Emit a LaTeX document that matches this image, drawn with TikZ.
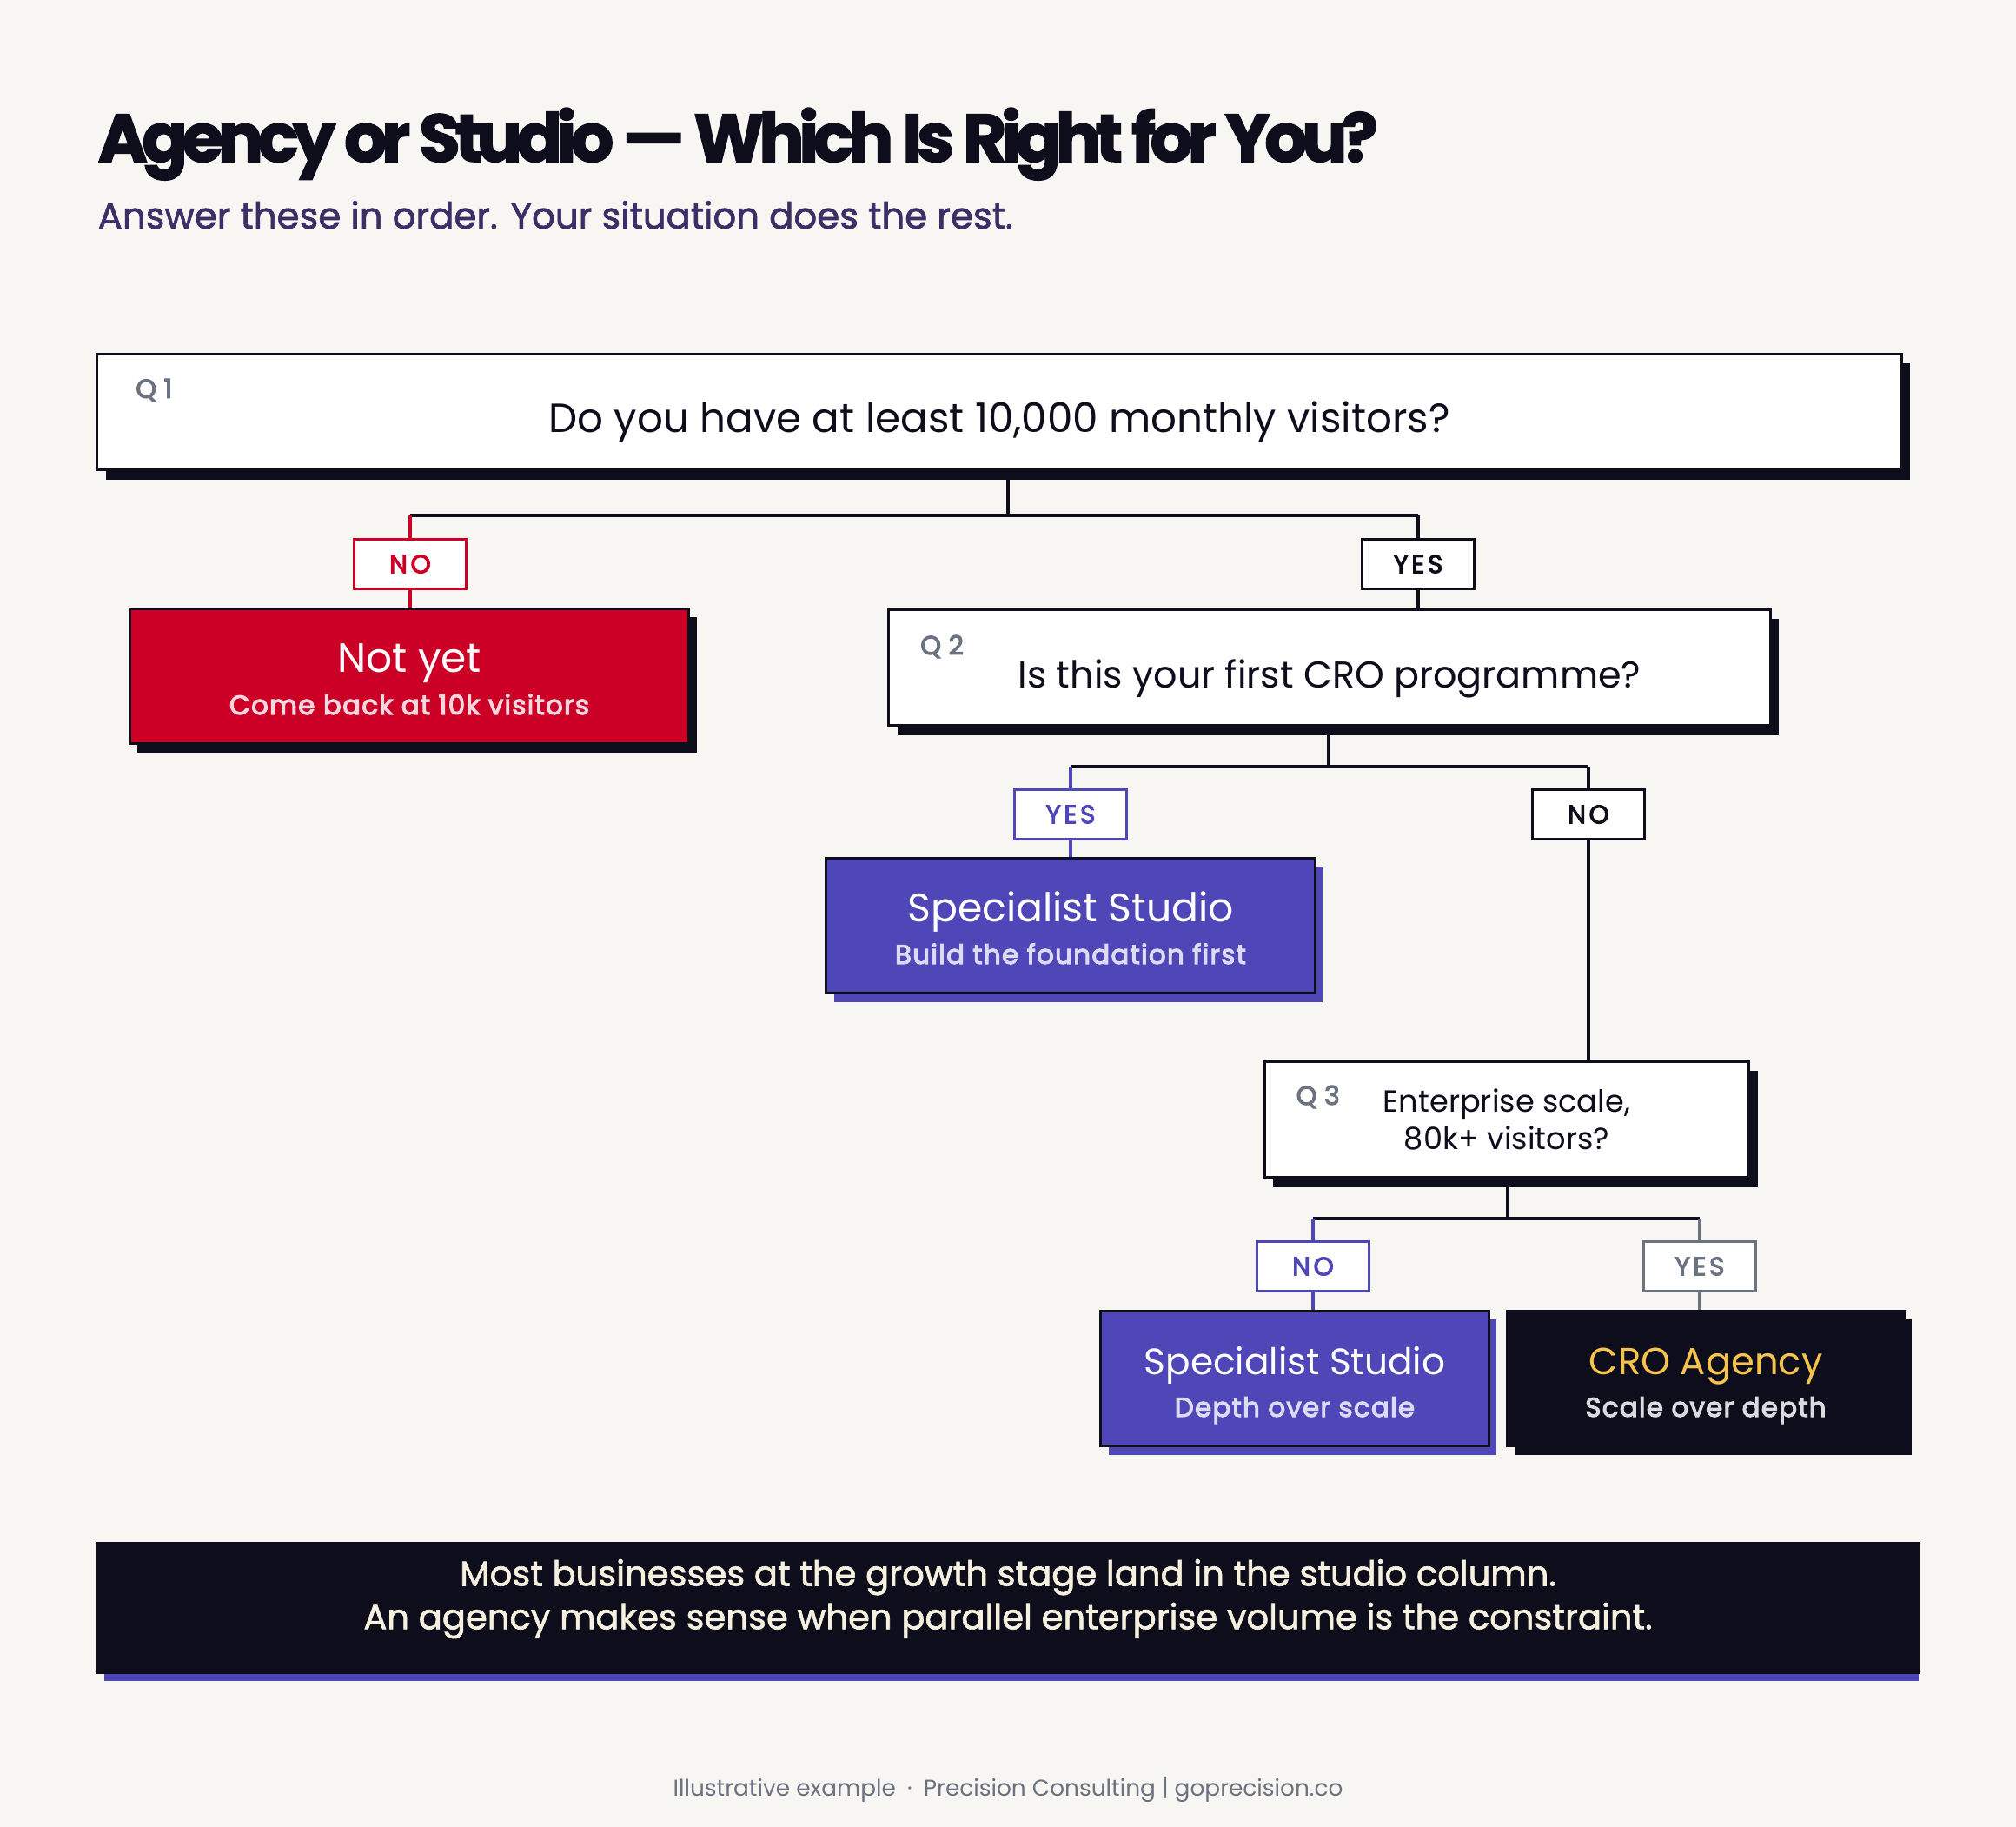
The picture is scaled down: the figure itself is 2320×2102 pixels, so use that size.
\documentclass[tikz,border=0pt]{standalone}
\usepackage{fontspec}
\setmainfont{Poppins}
\newfontfamily\heavy[BoldFeatures={FakeBold=2}]{Poppins}
\newfontfamily\medium[FakeBold=1.5]{Poppins}
\newfontfamily\semi[FakeBold=3.5]{Poppins}
\usetikzlibrary{positioning,shadows}
\definecolor{paper}{HTML}{F7F6F2}
\definecolor{ink}{HTML}{0E0D1C}
\definecolor{alert}{HTML}{CC0027}
\definecolor{studio}{HTML}{4F47B7}
\definecolor{muted}{HTML}{6B7280}
\definecolor{plum}{HTML}{3C2E66}
\definecolor{gold}{HTML}{F6C44C}
\definecolor{blush}{HTML}{F8D6DE}
\definecolor{lilac}{HTML}{DDDAF4}
\definecolor{mist}{HTML}{DADADF}
\definecolor{cream}{HTML}{F6F0DE}
\tikzset{
  question/.style={draw=ink,line width=0.9pt,fill=white,minimum height=1.33cm,
    text=ink,font=\fontsize{13.3}{16}\selectfont,text height=0.48cm,text depth=0.02cm,
    drop shadow={shadow xshift=0.1cm,shadow yshift=-0.11cm,fill=ink,opacity=1}},
  qnum/.style={text=muted,font=\fontsize{8.6}{10}\selectfont\semi\addfontfeatures{LetterSpace=28}},
  tag/.style={draw=#1,text=#1,line width=0.9pt,fill=white,minimum width=1.29cm,
    minimum height=0.57cm,inner sep=0pt,
    font=\fontsize{8.4}{10}\selectfont\semi\addfontfeatures{LetterSpace=12}},
  outcome/.style={draw=ink,line width=0.9pt,minimum height=1.55cm,align=center,
    text=white,font=\fontsize{13}{13.8}\selectfont,
    drop shadow={shadow xshift=0.09cm,shadow yshift=-0.1cm,fill=#1,opacity=1}},
  link/.style={draw=#1,line width=1pt},
  link/.default=ink
}
\newcommand{\boxnote}[2]{{\color{#1}\fontsize{8.8}{10}\selectfont\semi\addfontfeatures{LetterSpace=4}#2\rule[-3.8pt]{0pt}{3.8pt}}}
\newcommand{\boxhead}[1]{\rule{0pt}{15pt}#1}

\begin{document}
\begin{tikzpicture}[x=0.01cm,y=-0.01cm]
  \useasboundingbox (0,0) rectangle (2320,2102);
  \fill[paper] (0,0) rectangle (2320,2102);

  \node[anchor=base west,text=ink,inner sep=0pt,
    font=\fontsize{22}{26}\selectfont\heavy\bfseries\addfontfeatures{LetterSpace=-8.2}]
    (title) at (112,186) {Agency or Studio — Which Is Right for You?};
  \node[anchor=base west,text=plum,inner sep=0pt,font=\fontsize{11.9}{14}\selectfont\medium]
    (lede) at (112,263) {Answer these in order. Your situation does the rest.};

  % questions
  \node[question,minimum width=20.75cm] (q1) at (1150,474) {Do you have at least 10,000 monthly visitors?};
  \node[qnum] (q1n) at ([shift={(67,43)}]q1.north west) {Q1};
  \node[question,minimum width=10.14cm,font=\fontsize{12.2}{15}\selectfont] (q2) at (1530,768) {Is this your first CRO programme?};
  \node[qnum] (q2n) at ([shift={(63,44)}]q2.north west) {Q2};
  \node[question,minimum width=5.57cm,align=center,text height=,text depth=,
    font=\fontsize{10}{12.3}\selectfont]
    (q3) at (1734,1288) {Enterprise scale,\\80k+ visitors?};
  \node[qnum] (q3n) at ([shift={(63,42)}]q3.north west) {Q3};

  % answers
  \node[tag=alert] (a1no) at (472,649) {NO};
  \node[tag=ink] (a1yes) at (1632,649) {YES};
  \node[tag=studio] (a2yes) at (1232,937) {YES};
  \node[tag=ink] (a2no) at (1828,937) {NO};
  \node[tag=studio] (a3no) at (1511,1457) {NO};
  \node[tag=muted] (a3yes) at (1956,1457) {YES};

  % outcomes
  \node[outcome=ink,fill=alert,minimum width=6.43cm,font=\fontsize{13.4}{13.8}\selectfont]
    (notyet) at (471,778) {\boxhead{Not yet}\\\boxnote{blush}{Come back at 10k visitors}};
  \node[outcome=studio,fill=studio,minimum width=5.62cm] (studio1) at (1232,1065)
    {\boxhead{Specialist Studio}\\\boxnote{lilac}{Build the foundation first}};
  \node[outcome=studio,fill=studio,minimum width=4.46cm,font=\fontsize{12}{13.8}\selectfont]
    (studio2) at (1490,1586) {\boxhead{Specialist Studio}\\\boxnote{lilac}{Depth over scale}};
  \node[outcome=ink,fill=ink,minimum width=4.56cm,font=\fontsize{12.3}{13.8}\selectfont]
    (agency) at (1963,1586) {\boxhead{\textcolor{gold}{CRO Agency}}\\\boxnote{mist}{Scale over depth}};

  % branches
  \coordinate (j1) at (1160,593);
  \coordinate (j2) at (1529,882);
  \coordinate (j3) at (1735,1402);
  \draw[link] (q1.south -| j1) -- (j1);
  \draw[link] (a1no |- j1) -- (a1yes |- j1);
  \draw[link=alert] (a1no |- j1) -- (a1no);
  \draw[link=alert] (a1no) -- (a1no |- notyet.north);
  \draw[link] (a1yes |- j1) -- (a1yes);
  \draw[link] (a1yes) -- (a1yes |- q2.north);

  \draw[link] (q2.south -| j2) -- (j2);
  \draw[link] (a2yes |- j2) -- (a2no |- j2);
  \draw[link=studio] (a2yes |- j2) -- (a2yes);
  \draw[link=studio] (a2yes) -- (a2yes |- studio1.north);
  \draw[link] (a2no |- j2) -- (a2no);
  \draw[link] (a2no) -- (a2no |- q3.north);

  \draw[link] (q3.south -| j3) -- (j3);
  \draw[link] (a3no |- j3) -- (a3yes |- j3);
  \draw[link=studio] (a3no |- j3) -- (a3no);
  \draw[link=studio] (a3no) -- (a3no |- studio2.north);
  \draw[link=muted] (a3yes |- j3) -- (a3yes);
  \draw[link=muted] (a3yes) -- (a3yes |- agency.north);

  % takeaway
  \fill[studio] (120,1790) rectangle (2208,1934);
  \node[fill=ink,minimum width=20.96cm,minimum height=1.52cm,align=center,text=cream,
    font=\fontsize{11.4}{14.2}\selectfont\medium] (note) at (1160,1850)
    {Most businesses at the growth stage land in the studio column.\\
     An agency makes sense when parallel enterprise volume is the constraint.\rule[-9pt]{0pt}{9pt}};

  \node[anchor=base,text=muted,inner sep=0pt,font=\fontsize{7.5}{9}\selectfont]
    (credit) at (1160,2066) {Illustrative example\enspace·\enspace Precision Consulting | goprecision.co};
\end{tikzpicture}
\end{document}
